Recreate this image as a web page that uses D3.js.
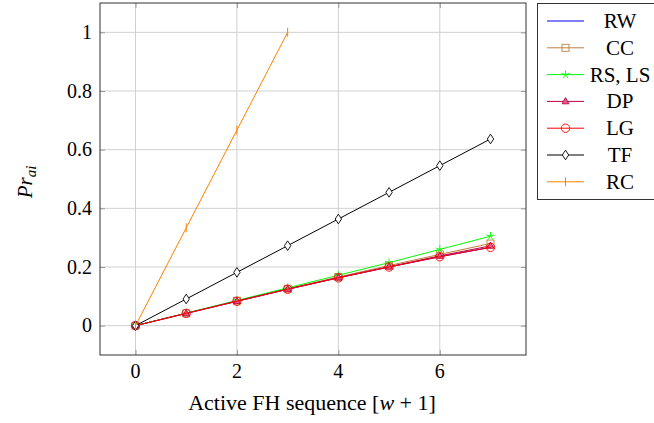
<!DOCTYPE html>
<html><head><meta charset="utf-8">
<script src="https://cdn.jsdelivr.net/npm/d3@7"></script>
</head>
<body style="margin:0"><svg id="c" width="654" height="423"></svg>
<script>
const xValues = [0,1,2,3,4,5,6,7];
const seriesNames = ["RW","CC","RS, LS","DP","LG","TF","RC"];
const rwValues = [0,0.042,0.083,0.124,0.163,0.200,0.235,0.267];
const ccValues = [0,0.042,0.085,0.126,0.166,0.205,0.243,0.280];
const rsValues = [0,0.043,0.086,0.129,0.172,0.215,0.260,0.305];
const dpValues = [0,0.042,0.084,0.125,0.164,0.201,0.238,0.272];
const lgValues = [0,0.042,0.083,0.124,0.163,0.200,0.235,0.267];
const tfValues = [0,0.0909,0.1818,0.2727,0.3636,0.4545,0.5455,0.6364];
const rcValues = [0,0.3333,0.6667,1.0];
const xTicks = [0,2,4,6];
const yTicks = [0,0.2,0.4,0.6,0.8,1];

const series = [
  {name:seriesNames[0], values:rwValues, color:"#0000ff", marker:"none"},
  {name:seriesNames[1], values:ccValues, color:"#bf8040", marker:"square"},
  {name:seriesNames[2], values:rsValues, color:"#00ff00", marker:"star"},
  {name:seriesNames[3], values:dpValues, color:"#bf0040", marker:"triangle"},
  {name:seriesNames[4], values:lgValues, color:"#ff0000", marker:"circle"},
  {name:seriesNames[5], values:tfValues, color:"#000000", marker:"diamond"},
  {name:seriesNames[6], values:rcValues, color:"#ff8000", marker:"bar"}
];

const svg = d3.select("#c");
const L=100, R=526, T=3, B=355;
const xs = d3.scaleLinear().domain([-0.7,7.7]).range([L,R]);
const ys = d3.scaleLinear().domain([-0.1,1.1]).range([B,T]);

// grid
const grid = svg.append("g");
grid.selectAll(".gx").data(xTicks).enter().append("line")
  .attr("x1",d=>xs(d)).attr("x2",d=>xs(d)).attr("y1",T).attr("y2",B)
  .attr("stroke","#d0d0d0").attr("stroke-width",1);
grid.selectAll(".gy").data(yTicks).enter().append("line")
  .attr("y1",d=>ys(d)).attr("y2",d=>ys(d)).attr("x1",L).attr("x2",R)
  .attr("stroke","#d0d0d0").attr("stroke-width",1);

// axes (lines only); labels drawn as plain text from the scales
svg.append("g").attr("transform",`translate(0,${B})`)
  .call(d3.axisBottom(xs).tickValues(xTicks).tickSize(-5).tickFormat(""))
  .call(a=>{a.select(".domain").remove();a.selectAll(".tick line").attr("stroke","#999");});
svg.append("g").attr("transform",`translate(${L},0)`)
  .call(d3.axisLeft(ys).tickValues(yTicks).tickSize(-5).tickFormat(""))
  .call(a=>{a.select(".domain").remove();a.selectAll(".tick line").attr("stroke","#999");});
svg.append("g").attr("transform",`translate(0,${T})`)
  .call(d3.axisTop(xs).tickValues(xTicks).tickSize(-5).tickFormat(""))
  .call(a=>{a.select(".domain").remove();a.selectAll(".tick line").attr("stroke","#999");});
svg.append("g").attr("transform",`translate(${R},0)`)
  .call(d3.axisRight(ys).tickValues(yTicks).tickSize(-5).tickFormat(""))
  .call(a=>{a.select(".domain").remove();a.selectAll(".tick line").attr("stroke","#999");});

const yFmt = d=>d===0?"0":(d===1?"1":d3.format(".1f")(d));
xTicks.forEach(d=>{
  svg.append("text").attr("x",xs(d)).attr("y",B+23).attr("text-anchor","middle")
    .attr("font-size","20px").style("font-family",'"Liberation Serif"').text(String(d));
});
yTicks.forEach(d=>{
  svg.append("text").attr("x",L-8).attr("y",ys(d)+6.5).attr("text-anchor","end")
    .attr("font-size","20px").style("font-family",'"Liberation Serif"').text(yFmt(d));
});

// series
const lineGen = d3.line().x((d,i)=>xs(xValues[i])).y(d=>ys(d));
function drawMarker(sel, type, color){
  if(type==="square"){
    sel.append("rect").attr("x",-3.5).attr("y",-3.5).attr("width",7).attr("height",7)
      .attr("fill","none").attr("stroke",color).attr("stroke-width",0.9);
  } else if(type==="circle"){
    sel.append("circle").attr("r",4.2).attr("fill","none").attr("stroke",color).attr("stroke-width",0.9);
  } else if(type==="diamond"){
    sel.append("path").attr("d","M0,-4.8L3.2,0L0,4.8L-3.2,0Z").attr("fill","#fff").attr("stroke",color).attr("stroke-width",0.9);
  } else if(type==="triangle"){
    sel.append("path").attr("d","M0,-3.8L3.4,2.4L-3.4,2.4Z").attr("fill","#e0608a").attr("stroke",color).attr("stroke-width",0.9);
  } else if(type==="star"){
    const p=[];
    for(let k=0;k<5;k++){const a=-Math.PI/2+k*2*Math.PI/5; p.push(`M0,0L${(4.2*Math.cos(a)).toFixed(2)},${(4.2*Math.sin(a)).toFixed(2)}`);}
    sel.append("path").attr("d",p.join("")).attr("fill","none").attr("stroke",color).attr("stroke-width",0.9);
  } else if(type==="bar"){
    sel.append("path").attr("d","M0,-4.5L0,4.5").attr("stroke",color).attr("stroke-width",1);
  }
}
const sg = svg.append("g");
series.forEach(s=>{
  sg.append("path").datum(s.values).attr("d",lineGen).attr("fill","none")
    .attr("stroke",s.color).attr("stroke-width",1);
  if(s.marker!=="none"){
    s.values.forEach((v,i)=>{
      const m = sg.append("g").attr("transform",`translate(${xs(xValues[i])},${ys(v)})`);
      drawMarker(m, s.marker, s.color);
    });
  }
});

// frame
svg.append("rect").attr("x",L).attr("y",T).attr("width",R-L).attr("height",B-T)
  .attr("fill","none").attr("stroke","#333").attr("stroke-width",1);

// axis labels
svg.append("text").attr("x",312).attr("y",410).attr("text-anchor","middle")
  .attr("font-size","22px").style("font-family",'"Liberation Serif"')
  .html('Active FH sequence [<tspan font-style="italic">w</tspan> + 1]');
svg.append("text").attr("transform","translate(32,182) rotate(-90)").attr("text-anchor","middle")
  .attr("font-size","21px").style("font-family",'"Liberation Serif"')
  .html('<tspan font-style="italic">Pr</tspan><tspan font-style="italic" font-size="15" dy="4">ai</tspan>');

// legend
const lg = svg.append("g");
lg.append("rect").attr("x",537.5).attr("y",3.5).attr("width",120).attr("height",196)
  .attr("fill","#fff").attr("stroke","#333").attr("stroke-width",1);
series.forEach((s,i)=>{
  const yy = 21 + i*26.8;
  lg.append("line").attr("x1",547).attr("x2",584).attr("y1",yy).attr("y2",yy)
    .attr("stroke",s.color).attr("stroke-width",1);
  if(s.marker!=="none"){
    const m = lg.append("g").attr("transform",`translate(565.5,${yy})`);
    drawMarker(m, s.marker, s.color);
  }
  svg.append("text").attr("x",620).attr("y",yy+7).attr("text-anchor","middle")
    .attr("font-size","21px").style("font-family",'"Liberation Serif"').text(s.name);
});
</script></body></html>
